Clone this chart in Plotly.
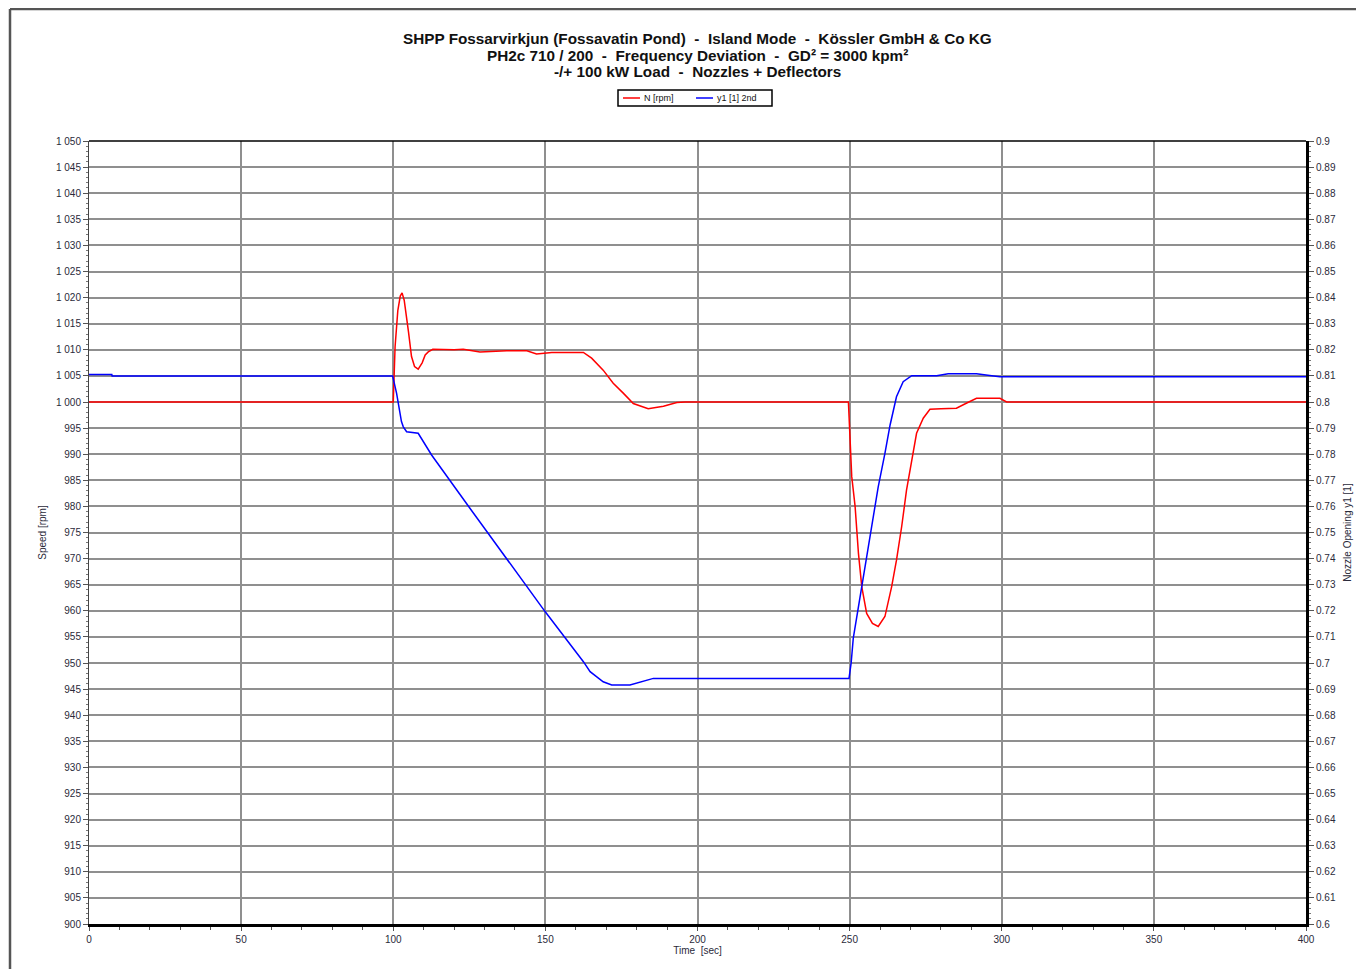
import plotly.graph_objects as go

# ---- data ----
t_speed = [0, 100, 100.6, 101.5, 102.3, 102.9, 103.6, 104.4, 105.0, 106.0, 107.0, 108.2, 109.5,
           110.5, 111.5, 113.0, 116, 120, 123.0, 128.5, 137.3, 143.9, 147.1, 152.1, 162.5,
           165.2, 169.0, 172.3, 175.6, 178.9, 183.8, 188.8, 193.2, 195.9,
           249.6, 250.0, 250.7, 251.8, 252.9, 254.0, 255.6, 257.5, 259.4, 261.6, 263.8, 265.4,
           267.1, 268.7, 270.4, 272.0, 274.2, 276.4, 280.0, 285.1, 288.5, 291.7, 299.4, 301.6, 400]
speed_rpm = [1000, 1000, 1010.6, 1017.5, 1020.3, 1020.9, 1019.5, 1016.5, 1013.5, 1008.7, 1006.8,
             1006.3, 1007.5, 1009.0, 1009.6, 1010.1, 1010.0, 1010.0, 1010.1, 1009.6, 1009.8,
             1009.8, 1009.2, 1009.5, 1009.5,
             1008.4, 1006.1, 1003.6, 1001.7, 999.7, 998.7, 999.2, 999.9, 1000.0,
             1000.0, 995.4, 985.7, 980.0, 971.0, 964.6, 959.5, 957.6, 957.0, 958.9, 964.6, 969.7,
             976.1, 983.1, 988.9, 994.0, 996.9, 998.6, 998.7, 998.8, 999.8, 1000.7, 1000.7, 1000.0, 1000.0]

t_opening = [0, 7.5, 7.6, 99.8, 101.1, 102.7, 103.3, 104.4, 108.2, 112.6, 125.2, 138.4, 149.9,
             162.5, 164.7, 169.0, 171.8, 177.8, 182.2, 185.5, 249.8, 250.5, 251.2, 254.0,
             256.7, 259.4, 261.6, 263.3, 265.4, 267.6, 270.4, 278.6, 282.4, 291.7, 296.7, 299.4, 400]
opening_y1 = [0.8105, 0.8105, 0.8100, 0.8100, 0.8033, 0.7925, 0.7905, 0.7886, 0.7880, 0.7797,
              0.7593, 0.7382, 0.7197, 0.7005, 0.6967, 0.6928, 0.6916, 0.6916, 0.6932, 0.6941,
              0.6941, 0.7000, 0.7095, 0.7292, 0.7471, 0.7675, 0.7803, 0.7912, 0.8020, 0.8078,
              0.8101, 0.8101, 0.8108, 0.8108, 0.8101, 0.8097, 0.8097]

x_ticks = [0, 50, 100, 150, 200, 250, 300, 350, 400]
y_ticks = list(range(900, 1051, 5))
y_ticklabels = [("1 %03d" % (v - 1000)) if v >= 1000 else str(v) for v in y_ticks]
y2_ticks = [round(0.6 + 0.01 * i, 2) for i in range(31)]
y2_ticklabels = [("%g" % v) for v in y2_ticks]

title_lines = ["SHPP Fossarvirkjun (Fossavatin Pond)\u00a0 -\u00a0 Island Mode\u00a0 -\u00a0 Kössler GmbH & Co KG",
               "PH2c 710 / 200\u00a0 -\u00a0 Frequency Deviation\u00a0 -\u00a0 GD² = 3000 kpm²",
               "-/+ 100 kW Load\u00a0 -\u00a0 Nozzles + Deflectors"]
legend_names = ["N [rpm]", "y1 [1] 2nd"]
legend_colors = ["#ff0000", "#0000ff"]

FONT = "Liberation Sans, Arial, sans-serif"
TICKC = "#2a2a3a"
GRID = "#8f8f8f"

# screen pixel -> paper coordinates (plot area on screen: x 89..1306, y 141..924)
px_x = lambda p: (p - 89) / 1217
px_y = lambda p: (924 - p) / 783

fig = go.Figure()
fig.add_trace(go.Scatter(x=t_speed, y=speed_rpm, mode="lines", name=legend_names[0],
                         line=dict(color=legend_colors[0], width=1.5), yaxis="y"))
fig.add_trace(go.Scatter(x=t_opening, y=opening_y1, mode="lines", name=legend_names[1],
                         line=dict(color=legend_colors[1], width=1.5), yaxis="y2"))

fig.update_layout(
    width=1356, height=961,
    margin=dict(l=81, r=58, t=133, b=45, autoexpand=False),
    paper_bgcolor="white", plot_bgcolor="white",
    font=dict(family=FONT, size=10, color=TICKC),
    showlegend=False,
    xaxis=dict(range=[0, 400], tickvals=x_ticks, ticktext=[str(v) for v in x_ticks],
               automargin=False,
               showgrid=True, gridcolor=GRID, gridwidth=1.5, zeroline=False,
               showline=True, linecolor="#000000", linewidth=3,
               ticks="outside", ticklen=4, tickcolor="#555555",
               minor=dict(dtick=10, ticks="outside", ticklen=3, tickcolor="#555555", showgrid=False),
               tickfont=dict(family=FONT, size=10, color=TICKC),
               title=dict(text="Time\u00a0 [sec]", standoff=0, font=dict(family=FONT, size=10, color=TICKC))),
    yaxis=dict(range=[900, 1050], tickvals=y_ticks, ticktext=y_ticklabels,
               automargin=False,
               showgrid=True, gridcolor=GRID, gridwidth=1.5, zeroline=False,
               showline=True, linecolor="#444444", linewidth=1,
               ticks="outside", ticklen=5, tickcolor="#555555",
               minor=dict(dtick=1, ticks="outside", ticklen=2, tickcolor="#777777", showgrid=False),
               tickfont=dict(family=FONT, size=10, color=TICKC),
               title=dict(text="Speed [rpm]", standoff=7, font=dict(family=FONT, size=10, color=TICKC))),
    yaxis2=dict(range=[0.6, 0.9], overlaying="y", side="right", tickvals=y2_ticks, ticktext=y2_ticklabels,
                automargin=False,
                showgrid=False, zeroline=False,
                showline=True, linecolor="#000000", linewidth=3,
                ticks="outside", ticklen=5, tickcolor="#555555",
                minor=dict(dtick=0.002, ticks="outside", ticklen=2, tickcolor="#777777", showgrid=False),
                tickfont=dict(family=FONT, size=10, color=TICKC),
                title=dict(text="Nozzle Opening y1 [1]", standoff=10, font=dict(family=FONT, size=10, color=TICKC))),
)

# title lines
for line, yc in zip(title_lines, [38, 55, 72]):
    fig.add_annotation(text=line, xref="paper", yref="paper", x=0.5, y=px_y(yc),
                       xanchor="center", yanchor="middle", showarrow=False,
                       font=dict(family=FONT, size=15.3, color="#111111", weight="bold"))

# legend box
fig.add_shape(type="rect", xref="paper", yref="paper", x0=px_x(618), x1=px_x(772), y0=px_y(90), y1=px_y(106),
              line=dict(color="#000000", width=1.5), fillcolor="white")
for name, col, xs in zip(legend_names, legend_colors, [623, 696]):
    fig.add_shape(type="line", xref="paper", yref="paper", x0=px_x(xs), x1=px_x(xs + 17),
                  y0=px_y(98), y1=px_y(98), line=dict(color=col, width=1.5))
    fig.add_annotation(text=name, xref="paper", yref="paper", x=px_x(xs + 19), y=px_y(98),
                       xanchor="left", yanchor="middle", showarrow=False,
                       font=dict(family=FONT, size=9, color="#111111"))

# thin top border of the plot area
fig.add_shape(type="line", xref="paper", yref="paper", x0=0, x1=1, y0=1, y1=1,
              line=dict(color="#000000", width=1.5))
# outer frame (left and top edge of the picture border)
fig.add_shape(type="line", xref="paper", yref="paper", x0=px_x(10), x1=px_x(1364), y0=px_y(9), y1=px_y(9),
              line=dict(color="#555555", width=2.5))
fig.add_shape(type="line", xref="paper", yref="paper", x0=px_x(10), x1=px_x(10), y0=px_y(9), y1=px_y(975),
              line=dict(color="#555555", width=2.5))

fig.write_html("out.html")
